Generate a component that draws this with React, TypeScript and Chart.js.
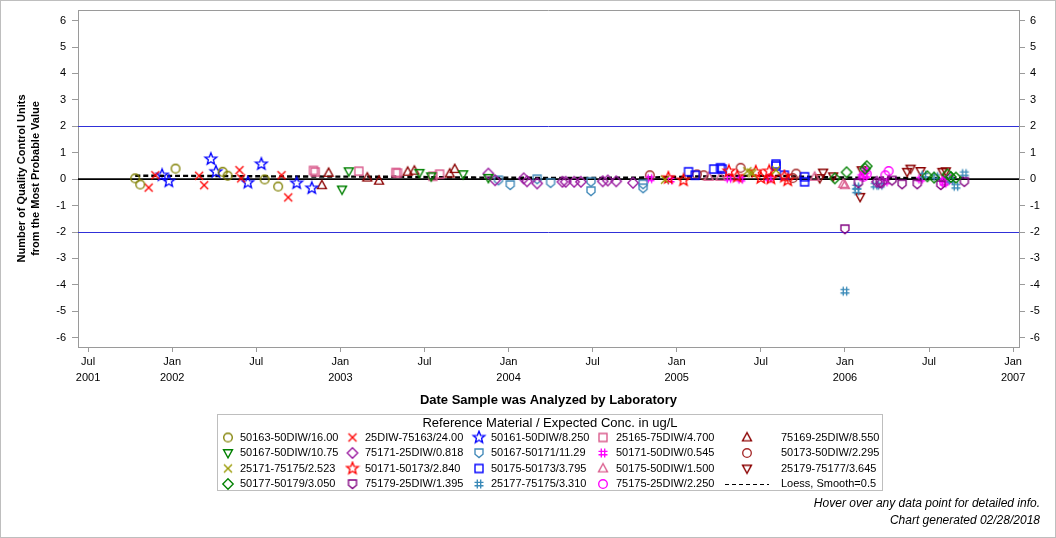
import React, { useEffect, useRef } from 'react';
import { Chart, registerables } from 'chart.js';

Chart.register(...registerables);

// ---------- DATA (x = decimal year of analysis, y = QC units from MPV) ----------
const d50163_50DIW_16 = [[2001.78, 0.03], [2001.81, -0.2], [2002.02, 0.4], [2002.30, 0.28], [2002.33, 0.13], [2002.55, -0.01], [2002.63, -0.28]];
const d50167_50DIW_1075 = [[2003.01, -0.39], [2003.05, 0.30], [2003.47, 0.24], [2003.54, 0.11], [2003.73, 0.19], [2003.88, 0.05]];
const d25171_75175_2523 = [[2004.93, -0.02], [2005.42, 0.30], [2005.44, 0.25], [2005.45, 0.22], [2005.59, 0.34]];
const d50177_50179_3050 = [[2005.94, 0.03], [2006.01, 0.26], [2006.12, 0.40], [2006.13, 0.49], [2006.49, 0.11], [2006.53, 0.06], [2006.61, 0.18], [2006.63, 0.08], [2006.66, 0.06]];
const d25DIW_75163_24 = [[2001.86, -0.32], [2001.90, 0.15], [2002.16, 0.13], [2002.19, -0.23], [2002.40, 0.34], [2002.41, 0.03], [2002.65, 0.15], [2002.69, -0.69]];
const d75171_25DIW_0818 = [[2003.88, 0.21], [2003.92, -0.04], [2004.09, 0.03], [2004.11, -0.08], [2004.17, -0.16], [2004.32, -0.10], [2004.34, -0.10], [2004.39, -0.10], [2004.43, -0.10], [2004.56, -0.08], [2004.59, -0.05], [2004.64, -0.08], [2004.74, -0.14], [2006.19, -0.10], [2006.22, -0.12]];
const d50171_50173_2840 = [[2004.95, 0.05], [2005.04, -0.04], [2005.31, 0.30], [2005.36, 0.10], [2005.47, 0.28], [2005.50, 0.05], [2005.55, 0.30], [2005.56, 0.03], [2005.64, 0.10], [2005.66, -0.04]];
const d75179_25DIW_1395 = [[2006.00, -1.89], [2006.08, -0.15], [2006.21, -0.15], [2006.28, -0.05], [2006.34, -0.19], [2006.43, -0.19], [2006.57, -0.22], [2006.71, -0.10]];
const d50161_50DIW_8250 = [[2001.94, 0.15], [2001.98, -0.08], [2002.23, 0.76], [2002.26, 0.28], [2002.45, -0.13], [2002.53, 0.57], [2002.74, -0.15], [2002.83, -0.34]];
const d50167_50171_1129 = [[2003.94, -0.04], [2004.01, -0.22], [2004.17, 0.0], [2004.25, -0.14], [2004.49, -0.10], [2004.49, -0.45], [2004.80, -0.19], [2004.80, -0.34]];
const d50175_50173_3795 = [[2005.07, 0.28], [2005.11, 0.15], [2005.22, 0.38], [2005.26, 0.43], [2005.27, 0.38], [2005.59, 0.57], [2005.59, 0.50], [2005.64, 0.15], [2005.76, 0.09], [2005.76, -0.10]];
const d25177_75175_3310 = [[2006.00, -4.24], [2006.07, -0.29], [2006.07, -0.44], [2006.18, -0.23], [2006.21, -0.23], [2006.47, 0.15], [2006.54, 0.10], [2006.63, -0.04], [2006.66, -0.27], [2006.71, 0.21]];
const d25165_75DIW_4700 = [[2002.84, 0.33], [2002.85, 0.27], [2003.11, 0.30], [2003.33, 0.25], [2003.34, 0.23], [2003.55, 0.11], [2003.59, 0.19]];
const d50171_50DIW_0545 = [[2004.84, 0.02], [2004.96, -0.03], [2005.31, 0.03], [2005.38, 0.0], [2005.55, 0.03], [2006.10, 0.10], [2006.12, 0.35], [2006.12, 0.15], [2006.24, -0.10], [2006.45, 0.0], [2006.59, -0.05], [2006.59, -0.15]];
const d50175_50DIW_1500 = [[2005.19, 0.09], [2005.26, 0.09], [2005.82, 0.09], [2005.99, -0.18], [2006.00, -0.23]];
const d75175_25DIW_2250 = [[2006.11, 0.09], [2006.13, 0.20], [2006.24, 0.15], [2006.26, 0.31], [2006.59, -0.10], [2006.62, 0.0]];
const d75169_25DIW_8550 = [[2002.89, -0.23], [2002.93, 0.24], [2003.16, 0.06], [2003.23, -0.06], [2003.40, 0.28], [2003.44, 0.32], [2003.65, 0.21], [2003.68, 0.38]];
const d50173_50DIW_2295 = [[2004.84, 0.15], [2005.12, 0.18], [2005.16, 0.15], [2005.38, 0.43], [2005.69, 0.04], [2005.71, 0.21]];
const d25179_75177_3645 = [[2005.85, 0.04], [2005.87, 0.25], [2005.93, 0.11], [2006.09, -0.67], [2006.10, 0.34], [2006.37, 0.28], [2006.39, 0.40], [2006.45, 0.31], [2006.58, 0.28], [2006.60, 0.30]];

const loessYears = [2001.78, 2002.2, 2002.8, 2003.3, 2003.8, 2004.3, 2004.8, 2005.2, 2005.6, 2005.9, 2006.3, 2006.71];
const loessValues = [0.13, 0.12, 0.10, 0.09, 0.06, 0.05, 0.06, 0.11, 0.12, 0.07, 0.05, 0.05];

const xTickValues = [2001.5, 2002, 2002.5, 2003, 2003.5, 2004, 2004.5, 2005, 2005.5, 2006, 2006.5, 2007];
const xTickLabels = [['Jul', '2001'], ['Jan', '2002'], ['Jul', ''], ['Jan', '2003'], ['Jul', ''], ['Jan', '2004'], ['Jul', ''], ['Jan', '2005'], ['Jul', ''], ['Jan', '2006'], ['Jul', ''], ['Jan', '2007']];
const yTickValues = [-6, -5, -4, -3, -2, -1, 0, 1, 2, 3, 4, 5, 6];
const refLines = [-2, 2];

// legend order: column-major (5 columns x 4 rows)
const seriesNames = [
  '50163-50DIW/16.00', '50167-50DIW/10.75', '25171-75175/2.523', '50177-50179/3.050',
  '25DIW-75163/24.00', '75171-25DIW/0.818', '50171-50173/2.840', '75179-25DIW/1.395',
  '50161-50DIW/8.250', '50167-50171/11.29', '50175-50173/3.795', '25177-75175/3.310',
  '25165-75DIW/4.700', '50171-50DIW/0.545', '50175-50DIW/1.500', '75175-25DIW/2.250',
  '75169-25DIW/8.550', '50173-50DIW/2.295', '25179-75177/3.645',
];
const seriesData = [
  d50163_50DIW_16, d50167_50DIW_1075, d25171_75175_2523, d50177_50179_3050,
  d25DIW_75163_24, d75171_25DIW_0818, d50171_50173_2840, d75179_25DIW_1395,
  d50161_50DIW_8250, d50167_50171_1129, d50175_50173_3795, d25177_75175_3310,
  d25165_75DIW_4700, d50171_50DIW_0545, d50175_50DIW_1500, d75175_25DIW_2250,
  d75169_25DIW_8550, d50173_50DIW_2295, d25179_75177_3645,
];
const loessLabel = 'Loess, Smooth=0.5';

// ---------- STYLES ----------
const seriesStyle: [string, string][] = [
  ['circle', '#808000'], ['triDown', '#008000'], ['x', '#999900'], ['diamond', '#008000'],
  ['x', '#FF0000'], ['diamond', '#9A1AA0'], ['star', '#FF0000'], ['shield', '#800080'],
  ['star', '#0000FF'], ['shield', '#3F88B8'], ['square', '#0000FF'], ['hash', '#3A8AB8'],
  ['square', '#D9588A'], ['hash', '#FF00FF'], ['triUp', '#DB6090'], ['circle', '#FF00FF'],
  ['triUp', '#8B0000'], ['circle', '#A52A2A'], ['triDown', '#8B0000'],
];

function makeMarker(shape: string, color: string): HTMLCanvasElement {
  const c = document.createElement('canvas');
  c.width = 16; c.height = 16;
  const g = c.getContext('2d')!;
  g.translate(8, 8);
  g.strokeStyle = color;
  g.lineWidth = 1.35;
  g.lineJoin = 'miter';
  g.beginPath();
  switch (shape) {
    case 'circle': g.arc(0, 0, 4.3, 0, Math.PI * 2); break;
    case 'x': g.moveTo(-4, -4); g.lineTo(4, 4); g.moveTo(4, -4); g.lineTo(-4, 4); break;
    case 'square': g.rect(-4, -4, 8, 8); break;
    case 'diamond': g.moveTo(0, -5.2); g.lineTo(5.2, 0); g.lineTo(0, 5.2); g.lineTo(-5.2, 0); g.closePath(); break;
    case 'triUp': g.moveTo(0, -4.8); g.lineTo(4.5, 3.3); g.lineTo(-4.5, 3.3); g.closePath(); break;
    case 'triDown': g.moveTo(0, 4.8); g.lineTo(4.5, -3.3); g.lineTo(-4.5, -3.3); g.closePath(); break;
    case 'shield': g.moveTo(-4, -4); g.lineTo(4, -4); g.lineTo(4, 1.2); g.lineTo(0, 4.5); g.lineTo(-4, 1.2); g.closePath(); break;
    case 'hash':
      g.moveTo(-1.7, -4.5); g.lineTo(-1.7, 4.5); g.moveTo(1.7, -4.5); g.lineTo(1.7, 4.5);
      g.moveTo(-4.5, -1.7); g.lineTo(4.5, -1.7); g.moveTo(-4.5, 1.7); g.lineTo(4.5, 1.7); break;
    case 'star':
      for (let i = 0; i < 10; i++) {
        const a = -Math.PI / 2 + (i * Math.PI) / 5;
        const r = i % 2 ? 2.7 : 6.2;
        const px = r * Math.cos(a), py = r * Math.sin(a);
        if (i === 0) g.moveTo(px, py); else g.lineTo(px, py);
      }
      g.closePath(); break;
  }
  g.stroke();
  return c;
}

const FONT = '"Liberation Sans", Arial, Helvetica, sans-serif';

export default function App() {
  const ref = useRef<HTMLCanvasElement>(null);
  useEffect(() => {
    const markers = seriesStyle.map(([s, c]) => makeMarker(s, c));
    const datasets: any[] = seriesNames.map((name, i) => ({
      type: 'scatter',
      label: name,
      data: seriesData[i].map(([x, y]) => ({ x, y })),
      pointStyle: markers[i],
      pointRadius: 4,
      borderColor: seriesStyle[i][1],
      backgroundColor: 'transparent',
      order: 1,
    }));
    datasets.push({
      type: 'line',
      label: loessLabel,
      data: loessYears.map((x, i) => ({ x, y: loessValues[i] })),
      borderColor: '#000',
      borderWidth: 2.4,
      borderDash: [5, 3],
      pointRadius: 0,
      tension: 0.4,
      fill: false,
      order: 2,
    });

    const framePlugin = {
      id: 'frame',
      beforeDatasetsDraw(chart: any) {
        const { ctx, chartArea: a, scales } = chart;
        ctx.save();
        ctx.lineWidth = 1;
        ctx.strokeStyle = '#3030D8';
        refLines.forEach((v) => {
          const y = Math.round(scales.y.getPixelForValue(v)) + 0.5;
          ctx.beginPath(); ctx.moveTo(a.left, y); ctx.lineTo(a.right, y); ctx.stroke();
        });
        ctx.strokeStyle = '#000';
        ctx.lineWidth = 1.6;
        const y0 = scales.y.getPixelForValue(0);
        ctx.beginPath(); ctx.moveTo(a.left, y0); ctx.lineTo(a.right, y0); ctx.stroke();
        ctx.restore();
      },
      afterDraw(chart: any) {
        const { ctx, chartArea: a, width, height } = chart;
        ctx.save();
        ctx.strokeStyle = '#9A9A9A';
        ctx.lineWidth = 1;
        ctx.beginPath(); ctx.moveTo(a.left, Math.round(a.top) + 0.5); ctx.lineTo(a.right, Math.round(a.top) + 0.5); ctx.stroke();
        // outer border
        ctx.strokeStyle = '#BEBEBE';
        ctx.strokeRect(0.5, 0.5, width - 1, height - 1);
        // legend box
        ctx.strokeRect(217.5, 414.5, 665, 76);
        ctx.fillStyle = '#000';
        ctx.textBaseline = 'middle';
        ctx.textAlign = 'center';
        ctx.font = `13px ${FONT}`;
        ctx.fillText('Reference Material / Expected Conc. in ug/L', 550, 423.5);
        const markerX = [228, 352.5, 479, 603, 747];
        const textX = [240, 365, 491, 616, 781];
        const rowY = [437.5, 453, 468.5, 484];
        ctx.font = `11px ${FONT}`;
        ctx.textAlign = 'left';
        seriesNames.forEach((name, i) => {
          const col = Math.floor(i / 4), row = i % 4;
          ctx.drawImage(markers[i], markerX[col] - 8, rowY[row] - 8);
          ctx.fillText(name, textX[col], rowY[row]);
        });
        ctx.strokeStyle = '#000';
        ctx.setLineDash([4, 3]);
        ctx.lineWidth = 1;
        ctx.beginPath(); ctx.moveTo(725, Math.round(rowY[3]) + 0.5); ctx.lineTo(769, Math.round(rowY[3]) + 0.5); ctx.stroke();
        ctx.setLineDash([]);
        ctx.fillText(loessLabel, textX[4], rowY[3]);
        // footnotes
        ctx.textAlign = 'right';
        ctx.font = `italic 12px ${FONT}`;
        ctx.fillText('Hover over any data point for detailed info.', 1040, 504);
        ctx.fillText('Chart generated 02/28/2018', 1040, 521);
        ctx.restore();
      },
    };

    const yTicks = (scale: any) => { scale.ticks = yTickValues.map((v) => ({ value: v })); };

    const chart = new Chart(ref.current!, {
      type: 'scatter',
      data: { datasets },
      plugins: [framePlugin],
      options: {
        animation: false,
        responsive: false,
        events: [],
        layout: { padding: { top: 10, bottom: 129, left: 0, right: 0 } },
        plugins: { legend: { display: false }, tooltip: { enabled: false } },
        scales: {
          x: {
            type: 'linear',
            min: 2001.44,
            max: 2007.035,
            afterBuildTicks: (scale: any) => { scale.ticks = xTickValues.map((v) => ({ value: v })); },
            afterFit: (scale: any) => { scale.height = 62; scale.paddingLeft = 0; scale.paddingRight = 0; },
            ticks: {
              autoSkip: false,
              maxRotation: 0,
              padding: 2,
              color: '#000',
              font: { family: FONT, size: 11, lineHeight: 1.45 },
              callback: (v: any) => {
                const i = xTickValues.indexOf(Number(v));
                const l = xTickLabels[i];
                return l[1] ? l : l[0];
              },
            },
            grid: { drawOnChartArea: false, drawTicks: true, tickLength: 5, color: '#9A9A9A' },
            border: { display: true, color: '#9A9A9A' },
            title: {
              display: true,
              text: 'Date Sample was Analyzed by Laboratory',
              color: '#000',
              font: { family: FONT, size: 13, weight: 'bold', lineHeight: 1.2 },
              padding: { top: 0, bottom: 1 },
            },
          },
          y: {
            type: 'linear',
            position: 'left',
            min: -6.35,
            max: 6.4,
            afterBuildTicks: yTicks,
            afterFit: (scale: any) => { scale.width = 78; scale.paddingTop = 0; scale.paddingBottom = 0; },
            ticks: { color: '#000', padding: 6, font: { family: FONT, size: 11 } },
            grid: { drawOnChartArea: false, drawTicks: true, tickLength: 6, color: '#9A9A9A' },
            border: { display: true, color: '#9A9A9A' },
            title: {
              display: true,
              text: ['Number of Quality Control Units', 'from the Most Probable Value'],
              color: '#000',
              font: { family: FONT, size: 11, weight: 'bold', lineHeight: 1.27 },
              padding: { top: 15, bottom: 0 },
            },
          },
          y2: {
            type: 'linear',
            position: 'right',
            min: -6.35,
            max: 6.4,
            afterBuildTicks: yTicks,
            afterFit: (scale: any) => { scale.width = 37; scale.paddingTop = 0; scale.paddingBottom = 0; },
            ticks: { color: '#000', padding: 5, font: { family: FONT, size: 11 } },
            grid: { drawOnChartArea: false, drawTicks: true, tickLength: 6, color: '#9A9A9A' },
            border: { display: true, color: '#9A9A9A' },
          },
        },
      } as any,
    });
    return () => chart.destroy();
  }, []);

  return (
    <div style={{ position: 'absolute', left: 0, top: 0, width: 1056, height: 538, background: '#fff' }}>
      <canvas ref={ref} width={1056} height={538} style={{ display: 'block', width: 1056, height: 538 }} />
    </div>
  );
}
